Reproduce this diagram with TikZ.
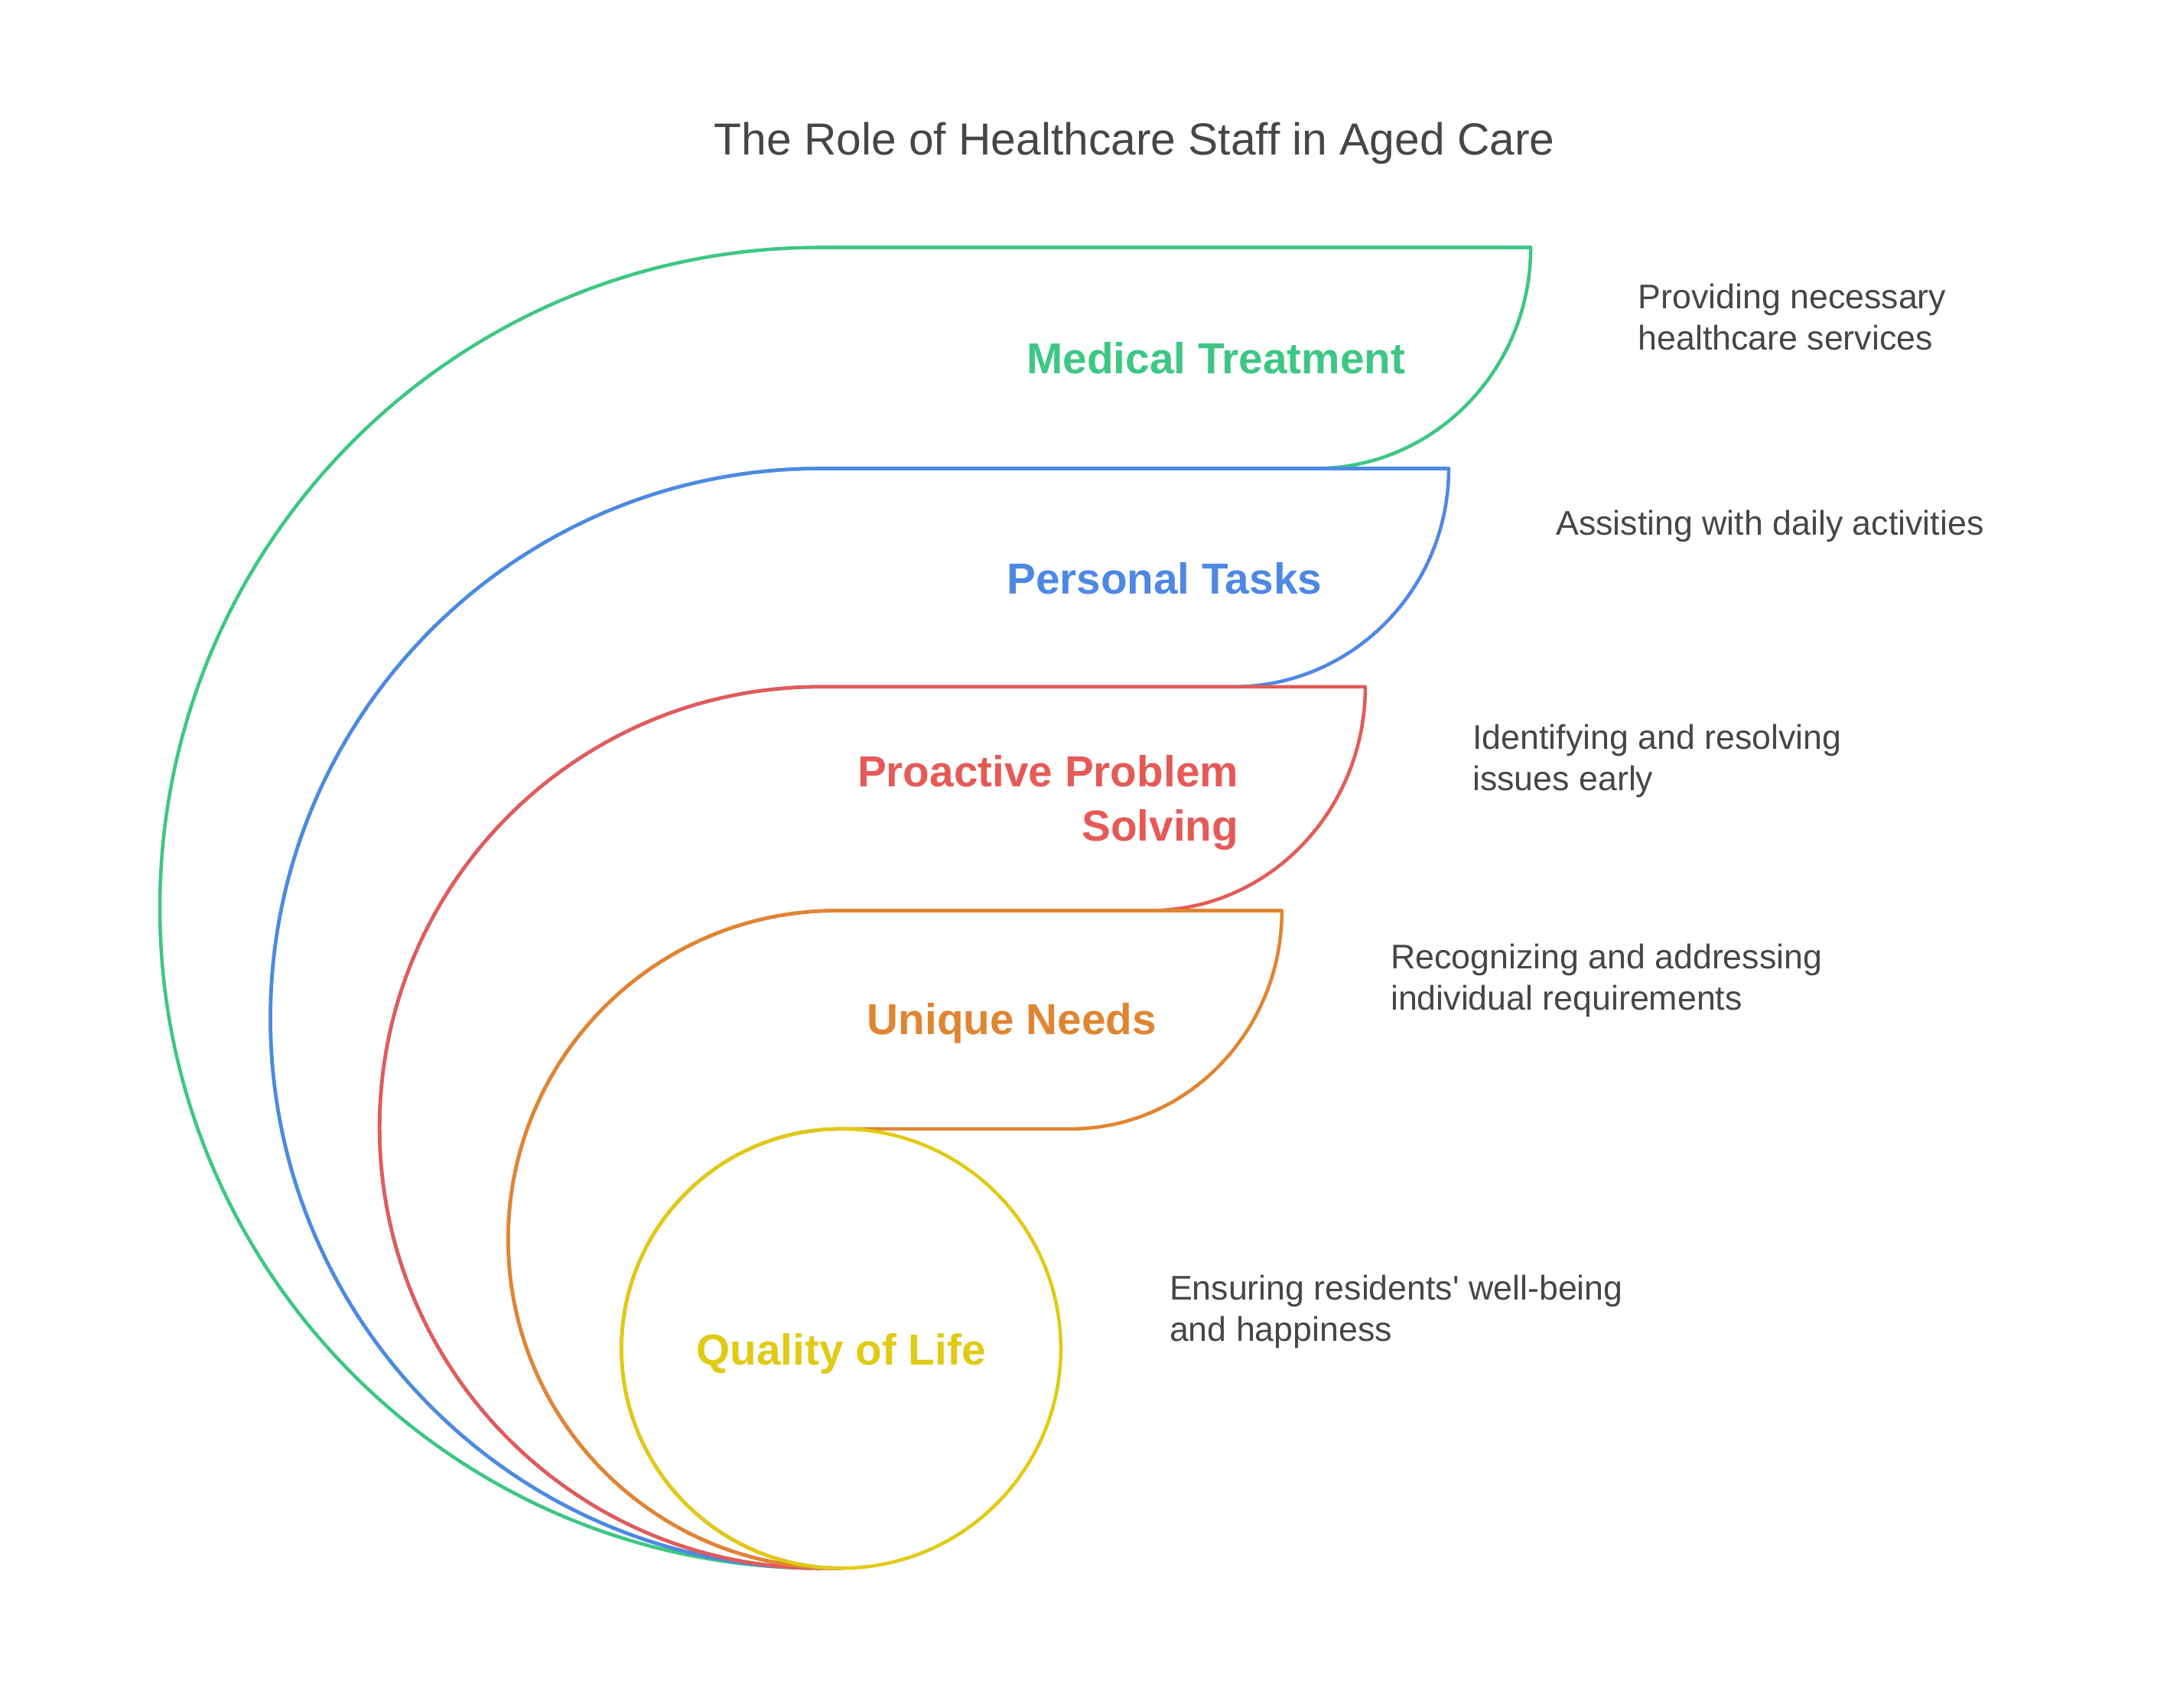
\documentclass[tikz,border=0pt]{standalone}
\usepackage{fontspec}
\setmainfont{Liberation Sans}
\definecolor{cG}{HTML}{3DC783}
\definecolor{cB}{HTML}{4E88E5}
\definecolor{cR}{HTML}{E55A57}
\definecolor{cO}{HTML}{E08531}
\definecolor{cY}{HTML}{E0CA14}
\definecolor{txt}{HTML}{464646}
\begin{document}
\begin{tikzpicture}[x=1pt,y=1pt,line width=2.5pt,line join=round,
  lbl/.style={font=\fontsize{31.2}{39}\selectfont\bfseries,inner sep=0pt},
  desc/.style={font=\fontsize{24.6}{29.5}\selectfont,text=txt,align=left,inner sep=0pt,anchor=base west}]
\path[use as bounding box] (0,0) rectangle (1568,1228);
% shapes
\draw[cG] (590,1050) -- (1101,1050) arc[start angle=0,end angle=-90,x radius=155pt,y radius=159pt]
  -- (590,891) arc[start angle=90,end angle=270,radius=395.5pt]
  arc[start angle=270,end angle=90,radius=475pt] -- cycle;
\draw[cB] (590,891) -- (1042,891) arc[start angle=0,end angle=-90,x radius=155pt,y radius=157pt]
  -- (590,734) arc[start angle=90,end angle=270,radius=317pt]
  arc[start angle=270,end angle=90,radius=395.5pt] -- cycle;
\draw[cR] (590,734) -- (982,734) arc[start angle=0,end angle=-90,x radius=155pt,y radius=161pt]
  -- (602,573) arc[start angle=90,end angle=270,radius=236.5pt]
  -- (590,100) arc[start angle=270,end angle=90,radius=317pt] -- cycle;
\draw[cO] (602,573) -- (922,573) arc[start angle=0,end angle=-90,x radius=152pt,y radius=157pt]
  -- (605,416) arc[start angle=90,end angle=270,radius=158pt]
  -- (602,100) arc[start angle=270,end angle=90,radius=236.5pt] -- cycle;
\draw[cY] (605,258) circle[radius=158pt];
% labels
\node[lbl,text=cG,anchor=base east] (mt) at (1012,959) {Medical Treatment};
\node[lbl,text=cB,anchor=base east] (pt) at (952,801) {Personal Tasks};
\node[lbl,text=cR,anchor=base east,align=right] (pps) at (892,623) {Proactive Problem\\Solving};
\node[lbl,text=cO,anchor=base east] (un) at (833,484) {Unique Needs};
\node[lbl,text=cY,anchor=base] (ql) at (605,246) {Quality of Life};
% descriptions (base = last line)
\node[desc] (d1) at (1177,976.5) {Providing necessary\\healthcare services};
\node[desc] (d2) at (1118,843) {Assisting with daily activities};
\node[desc] (d3) at (1058,659.5) {Identifying and resolving\\issues early};
\node[desc] (d4) at (999,501.5) {Recognizing and addressing\\individual requirements};
\node[desc] (d5) at (840,263.5) {Ensuring residents\textquotesingle\ well-being\\and happiness};
% title
\node[font=\fontsize{32.3}{38}\selectfont,text=txt,anchor=base] (title) at (816,1116.5) {The Role of Healthcare Staff in Aged Care};
\end{tikzpicture}
\end{document}
